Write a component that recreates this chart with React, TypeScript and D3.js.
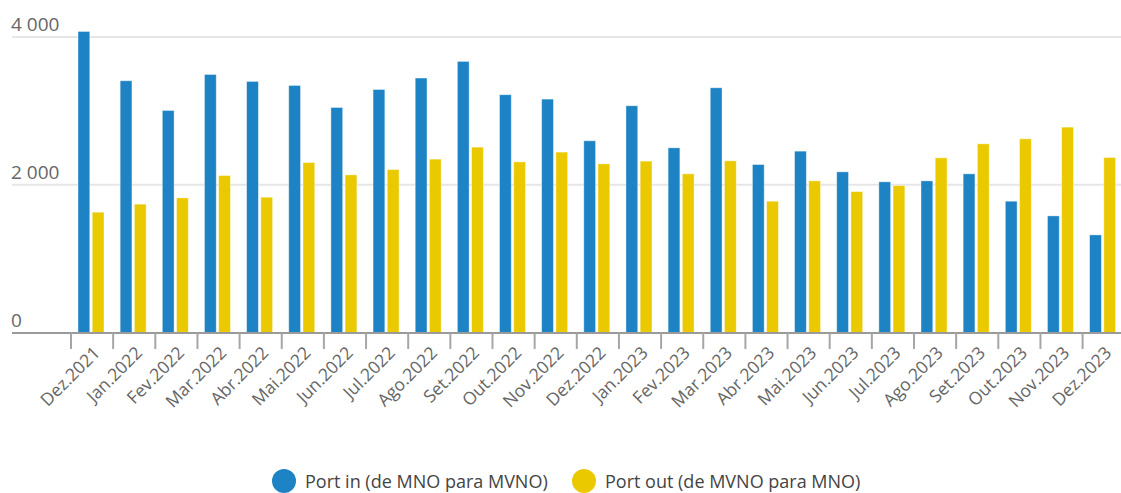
import * as d3 from 'd3';

const months = [
  'Dez.2021', 'Jan.2022', 'Fev.2022', 'Mar.2022', 'Abr.2022', 'Mai.2022', 'Jun.2022', 'Jul.2022',
  'Ago.2022', 'Set.2022', 'Out.2022', 'Nov.2022', 'Dez.2022', 'Jan.2023', 'Fev.2023', 'Mar.2023',
  'Abr.2023', 'Mai.2023', 'Jun.2023', 'Jul.2023', 'Ago.2023', 'Set.2023', 'Out.2023', 'Nov.2023', 'Dez.2023',
];

const portIn = [
  4075, 3408, 3006, 3493, 3399, 3345, 3047, 3290, 3445, 3670, 3219, 3160, 2596,
  3070, 2501, 3313, 2275, 2456, 2176, 2041, 2054, 2149, 1779, 1580, 1323,
];

const portOut = [
  1630, 1739, 1824, 2126, 1833, 2302, 2135, 2207, 2348, 2510, 2311, 2443, 2284,
  2321, 2149, 2325, 1779, 2054, 1909, 1990, 2366, 2555, 2623, 2781, 2370,
];

const seriesNames = ['Port in (de MNO para MVNO)', 'Port out (de MVNO para MNO)'];
const seriesColors = ['#1d83c4', '#ebc900'];
const yTicks = [0, 2000, 4000];

const W = 1121;
const H = 493;
const FONT = '"Open Sans", sans-serif';

export default function App() {
  const x = d3.scaleBand<string>().domain(months).range([71, 71 + 25 * 42.15]).padding(0);
  const inner = d3.scaleBand<number>().domain([0, 1]).range([7, 33]).paddingInner(0.17);
  const y = d3.scaleLinear().domain([0, 4000]).range([332.7, 37]);
  const fmt = (v: number) => d3.format(',')(v).replace(/,/g, ' ');
  const series = [portIn, portOut];

  return (
    <div style={{ position: 'absolute', left: 0, top: 0 }}>
      <svg width={W} height={H} style={{ display: 'block', fontFamily: FONT }}>
        <rect width={W} height={H} fill="#fff" />
        {yTicks.filter((t) => t > 0).map((t) => (
          <line key={t} x1={12} x2={W} y1={y(t)} y2={y(t)} stroke="#e6e6e6" strokeWidth={2} />
        ))}
        {yTicks.map((t) => (
          <text key={'l' + t} x={11} y={y(t) - 6} fontSize={19} fill="#666">
            {fmt(t)}
          </text>
        ))}
        {series.map((vals, si) =>
          vals.map((v, i) => (
            <rect
              key={si + '-' + i}
              x={(x(months[i]) ?? 0) + (inner(si) ?? 0)}
              y={y(v)}
              width={inner.bandwidth()}
              height={y(0) - y(v)}
              fill={seriesColors[si]}
              stroke="#fff"
              strokeOpacity={0.5}
              strokeWidth={0.8}
            />
          )),
        )}
        <line x1={12} x2={W} y1={333} y2={333} stroke="#9a9a9a" strokeWidth={2} />
        {months.map((m) => (
          <line key={'t' + m} x1={x(m)} x2={x(m)} y1={333} y2={349} stroke="#a6a6a6" strokeWidth={2} />
        ))}
        {months.map((m) => {
          const cx = (x(m) ?? 0) + x.bandwidth() / 2 + 9;
          const cy = 354;
          return (
            <text
              key={'x' + m}
              x={cx}
              y={cy}
              textAnchor="end"
              fontSize={17.5}
              fill="#666"
              transform={`rotate(-45 ${cx} ${cy})`}
            >
              {m}
            </text>
          );
        })}
        {seriesNames.map((name, i) => {
          const lx = [284, 584][i];
          return (
            <g key={name}>
              <circle cx={lx} cy={481} r={12} fill={seriesColors[i]} />
              <text x={lx + 21} y={487.5} fontSize={18} fill="#444">
                {name}
              </text>
            </g>
          );
        })}
      </svg>
    </div>
  );
}
